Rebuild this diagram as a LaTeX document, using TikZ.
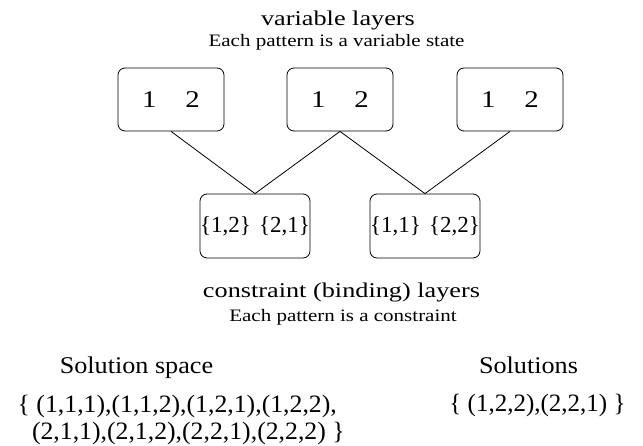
\documentclass[tikz,border=0pt]{standalone}
\usepackage{fontspec}
\usepackage{graphicx}
\setmainfont{Liberation Serif}
\newcommand\xstretch[2]{\scalebox{#1}[1]{#2}}
\begin{document}
\begin{tikzpicture}[x=1pt,y=-1pt,
  varbox/.style={draw, rounded corners=7pt, minimum width=106pt, minimum height=63pt, inner sep=0pt, line width=0.8pt, font=\fontsize{24}{26}\selectfont},
  conbox/.style={draw, rounded corners=7pt, minimum width=106pt, minimum height=64pt, inner sep=0pt, line width=0.8pt, font=\fontsize{23}{26}\selectfont},
  head/.style={font=\fontsize{21}{24}\selectfont, inner sep=0pt, anchor=base},
  solhead/.style={font=\fontsize{24}{26}\selectfont, inner sep=0pt, anchor=base},
  sub/.style={font=\fontsize{17.5}{20}\selectfont, inner sep=0pt, anchor=base},
  settext/.style={font=\fontsize{25}{27}\selectfont, inner sep=0pt, align=left},
  link/.style={line width=0.8pt}]
\useasboundingbox (0,0) rectangle (643,446);
\node[head] (vt) at (338,26) {\xstretch{1.25}{variable layers}};
\node[sub] (vs) at (336.5,47) {\xstretch{1.2}{Each pattern is a variable state}};
\node[varbox] (v1) at (171,99.5) {\xstretch{1.2}{1\hspace{1em}2}};
\node[varbox] (v2) at (340,99.5) {\xstretch{1.2}{1\hspace{1em}2}};
\node[varbox] (v3) at (510,99.5) {\xstretch{1.2}{1\hspace{1em}2}};
\node[conbox] (c1) at (255,226) {\{1,2\}\hspace{0.36em}\{2,1\}};
\node[conbox] (c2) at (425,226) {\{1,1\}\hspace{0.36em}\{2,2\}};
\draw[link] (v1.south) -- (c1.north);
\draw[link] (v2.south) -- (c1.north);
\draw[link] (v2.south) -- (c2.north);
\draw[link] (v3.south) -- (c2.north);
\node[head] (ct) at (341.5,298) {\xstretch{1.25}{constraint (binding) layers}};
\node[sub] (cs) at (343,322) {\xstretch{1.2}{Each pattern is a constraint}};
\node[solhead] (st) at (136.5,374) {\xstretch{1.09}{Solution space}};
\node[settext, anchor=base west] (ss) at (17.5,439) {\xstretch{1.03}{\{ (1,1,1),(1,1,2),(1,2,1),(1,2,2),}\\\hspace*{14.3pt}\xstretch{1.03}{(2,1,1),(2,1,2),(2,2,1),(2,2,2) \}}};
\node[solhead] (sl) at (528.5,374) {\xstretch{1.09}{Solutions}};
\node[settext, anchor=base] (sv) at (537.5,412) {\{ (1,2,2),(2,2,1) \}};
\end{tikzpicture}
\end{document}
